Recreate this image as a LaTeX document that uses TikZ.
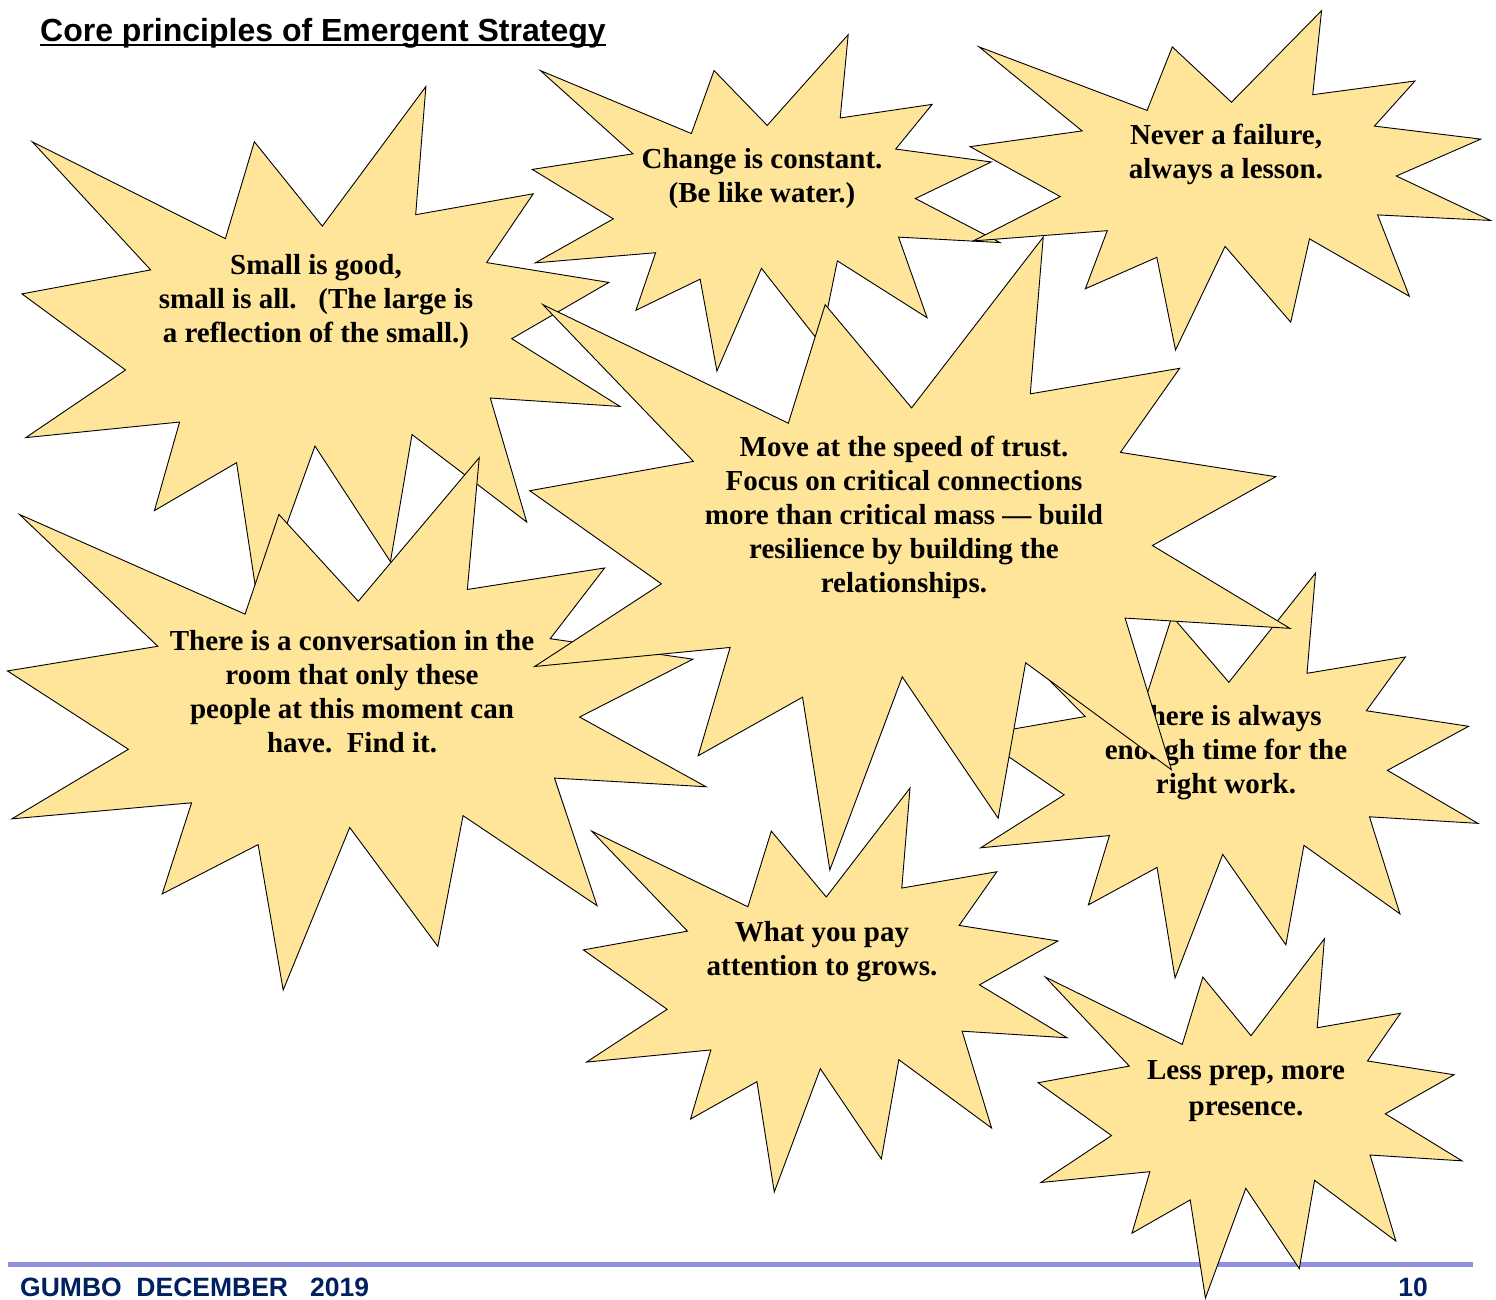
\documentclass[tikz,border=0pt]{standalone}
\usepackage{fontspec}
\setmainfont{Liberation Serif}
\newfontfamily\arialfont{Liberation Sans}
\definecolor{starfill}{HTML}{FFE599}
\definecolor{footline}{HTML}{9090E0}
\definecolor{navy}{HTML}{002060}
\tikzset{
  sealstyle/.style={draw=black, line width=0.9pt, fill=starfill, line join=miter},
  txt/.style={align=center, inner sep=0pt, font=\bfseries\fontsize{29}{34}\selectfont},
  sans/.style={inner sep=0pt, font=\arialfont\bfseries}
}
\newcommand\explosionat[4]{%
  \begin{scope}[shift={(#1,#2)}, xscale=#3/216, yscale=#4/216]
    \path[sealstyle] (109.01,59.05) -- (84.58,23.99) -- (74.17,64.25) -- (4.76,23.99)
      -- (47.32,77.22) -- (1.06,87.18) -- (38.28,118.80) -- (2.43,146.89)
      -- (57.72,140.41) -- (48.68,177.19) -- (78.19,157.30) -- (85.90,216)
      -- (106.37,150.38) -- (133.49,198.40) -- (141.25,145.61) -- (182.48,181.95)
      -- (169.38,130.44) -- (216,133.93) -- (177.10,105.79) -- (211.98,82.42)
      -- (168.06,74.17) -- (184.82,45.60) -- (142.57,54.29) -- (146.23,1.06) -- cycle;
  \end{scope}}
\begin{document}
\begin{tikzpicture}[x=1pt, y=-1pt]
\useasboundingbox (0,0) rectangle (1496,1299);

% footer rule (behind the stars)
\coordinate (fl) at (8,1264.5);
\coordinate (fr) at (1473,1264.5);
\draw[footline, line width=5pt] (fl) -- (fr);

% title
\node[sans, anchor=base west, font=\arialfont\bfseries\fontsize{32}{37}\selectfont] (title) at (40,41) {Core principles of Emergent Strategy};
\draw[line width=2.5pt] ([yshift=-4pt]title.base west) -- ([yshift=-4pt]title.base east);

% star 1
\explosionat{19}{84}{601}{520}
\node[txt] (t1) at (316,301.5) {Small is good,\\small is all.\ \ \ (The large is\\a reflection of the small.)};

% star 2
\explosionat{4}{455}{702}{535}
\node[txt] (t2) at (352,691.5) {There is a conversation in the\\room that only these\\people at this moment can\\have.\ \ Find it.};

% star 3
\explosionat{530}{33}{470}{338}
\node[txt] (t3) at (762,178.5) {Change is constant.\\(Be like water.)};

% star 4
\explosionat{967.5}{9}{523}{341}
\node[txt] (t4) at (1226,154.5) {Never a failure,\\always a lesson.};

% star 6
\explosionat{975}{571}{503}{407}
\node[txt] (t6) at (1226,753) {There is always\\enough time for the\\right work.};

% star 5
\explosionat{526}{234}{764}{636}
\node[txt] (t5) at (904,517) {Move at the speed of trust.\\Focus on critical connections\\more than critical mass — build\\resilience by building the\\relationships.};

% star 7
\explosionat{581}{786}{486}{406}
\node[txt] (t7) at (822,951.5) {What you pay\\attention to grows.};

% star 8
\explosionat{1036}{937}{426}{361}
\node[txt, font=\bfseries\fontsize{29}{35.5}\selectfont] (t8) at (1246,1091) {Less prep, more\\presence.};

% footer text
\node[sans, anchor=base west, text=navy, font=\arialfont\bfseries\fontsize{26.5}{31}\selectfont] (foot) at (20,1296) {GUMBO\ \ DECEMBER\ \ \ 2019};
\node[sans, anchor=base east, text=navy, font=\arialfont\bfseries\fontsize{26.5}{31}\selectfont] (page) at (1428,1296) {10};
\end{tikzpicture}
\end{document}
